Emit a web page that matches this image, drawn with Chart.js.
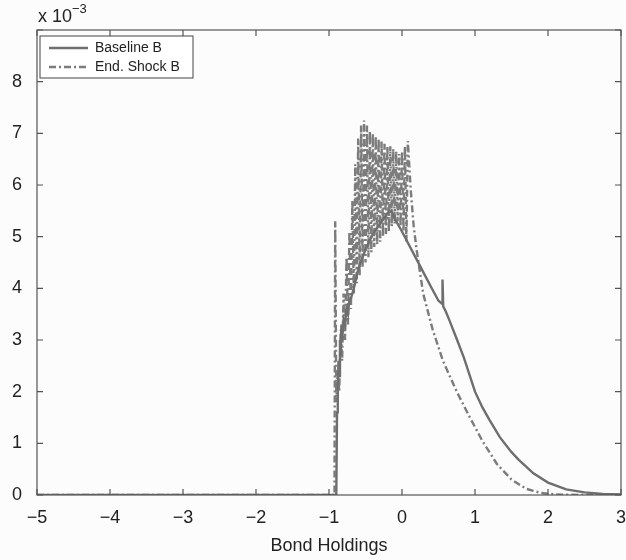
<!DOCTYPE html>
<html>
<head>
<meta charset="utf-8">
<script src="https://cdn.jsdelivr.net/npm/chart.js@4.4.0/dist/chart.umd.min.js"></script>
<style>
  html, body { margin: 0; padding: 0; background: #fcfcfc; }
  #wrap { width: 626px; height: 560px; }
</style>
</head>
<body>
<div id="wrap"><canvas id="grafico" width="626" height="560"></canvas></div>
<script>
// valores em unidades de 10^-3
var baseX = [-5, -0.9, -0.89, -0.88, -0.87, -0.86, -0.85, -0.84, -0.83, -0.82, -0.8, -0.78, -0.76, -0.74, -0.72,
  -0.7, -0.66, -0.62, -0.58, -0.54, -0.5, -0.45, -0.4, -0.35, -0.3, -0.25, -0.2, -0.15, -0.1, 0, 0.1, 0.2, 0.3,
  0.4, 0.5, 0.55, 0.555, 0.565, 0.6, 0.65, 0.75, 0.85, 1.0, 1.1, 1.2, 1.34, 1.5, 1.6, 1.8, 2.0, 2.25, 2.5, 2.75, 3];
var baseY = [0, 0, 1.6, 1.9, 2.6, 2.3, 3.0, 2.7, 3.3, 3.0, 3.4, 3.3, 3.6, 3.5, 3.8,
  3.8, 4.0, 4.25, 4.45, 4.6, 4.75, 4.9, 5.05, 5.15, 5.25, 5.35, 5.45, 5.5, 5.35, 5.1, 4.83, 4.56, 4.29,
  4.02, 3.76, 3.7, 4.17, 3.65, 3.55, 3.38, 3.02, 2.65, 2.0, 1.7, 1.45, 1.12, 0.83, 0.68, 0.42, 0.24, 0.11, 0.05, 0.02, 0.01];

var choqueX = [-5, -0.925, -0.915, -0.9, -0.88,
  -0.86, -0.84, -0.82, -0.8, -0.78, -0.76, -0.74, -0.72, -0.7, -0.68, -0.66, -0.64, -0.62, -0.6, -0.58, -0.56,
  -0.54, -0.52, -0.5, -0.48, -0.46, -0.44, -0.42, -0.4, -0.38, -0.36, -0.34, -0.32, -0.3, -0.28, -0.26, -0.24,
  -0.22, -0.2, -0.18, -0.16, -0.14, -0.12, -0.1, -0.08, -0.06, -0.04, -0.02, 0, 0.02, 0.04, 0.06, 0.08,
  0.12, 0.16, 0.2, 0.29, 0.42, 0.56, 0.75, 0.93, 1.1, 1.3, 1.5, 1.7, 1.9, 2.1, 2.5, 3];
var choqueY = [0, 0, 5.3, 1.8, 2.4,
  2.0, 3.2, 2.6, 3.9, 3.0, 4.6, 3.3, 5.1, 3.6, 5.7, 3.9, 6.4, 4.1, 6.9, 4.25, 7.15,
  4.4, 7.25, 4.5, 7.15, 4.6, 7.05, 4.7, 7.0, 4.8, 6.95, 4.85, 6.9, 4.9, 6.85, 5.0, 6.8,
  5.05, 6.75, 5.1, 6.75, 5.2, 6.7, 5.25, 6.65, 5.3, 6.6, 5.2, 6.65, 5.1, 6.75, 4.9, 6.85,
  5.9, 5.2, 4.75, 3.9, 3.2, 2.6, 2.0, 1.5, 1.05, 0.6, 0.3, 0.12, 0.04, 0.01, 0, 0];

var rotulos = ['Baseline B', 'End. Shock B'];
var ticksX = [-5, -4, -3, -2, -1, 0, 1, 2, 3];
var ticksY = [0, 1, 2, 3, 4, 5, 6, 7, 8, 9];

var fonte = '"Liberation Sans", Arial, Helvetica, sans-serif';

function pontos(xs, ys) {
  var r = [];
  for (var i = 0; i < xs.length; i++) r.push({ x: xs[i], y: ys[i] });
  return r;
}

// moldura com ticks para dentro, estilo matlab
var moldura = {
  id: 'moldura',
  afterDraw: function (chart) {
    var ctx = chart.ctx, a = chart.chartArea;
    var sx = chart.scales.x, sy = chart.scales.y;
    ctx.save();
    ctx.strokeStyle = '#555';
    ctx.lineWidth = 1.2;
    ctx.strokeRect(a.left, a.top, a.right - a.left, a.bottom - a.top);
    ctx.beginPath();
    ticksX.forEach(function (v) {
      var px = sx.getPixelForValue(v);
      ctx.moveTo(px, a.bottom); ctx.lineTo(px, a.bottom - 6);
      ctx.moveTo(px, a.top); ctx.lineTo(px, a.top + 6);
    });
    ticksY.forEach(function (v) {
      var py = sy.getPixelForValue(v);
      ctx.moveTo(a.left, py); ctx.lineTo(a.left + 6, py);
      ctx.moveTo(a.right, py); ctx.lineTo(a.right - 6, py);
    });
    ctx.stroke();

    // expoente
    ctx.fillStyle = '#222';
    ctx.textBaseline = 'alphabetic';
    ctx.font = '18px ' + fonte;
    ctx.fillText('x 10', a.left + 1, 22);
    var w = ctx.measureText('x 10').width;
    ctx.font = '13px ' + fonte;
    ctx.fillText('\u22123', a.left + 1 + w, 13);

    // legenda
    var lx = 40, ly = 36, lw = 153, lh = 42;
    ctx.fillStyle = '#fff';
    ctx.fillRect(lx, ly, lw, lh);
    ctx.strokeStyle = '#444';
    ctx.lineWidth = 1;
    ctx.strokeRect(lx, ly, lw, lh);
    chart.data.datasets.forEach(function (ds, i) {
      var y = ly + 12 + i * 19;
      ctx.strokeStyle = ds.borderColor;
      ctx.lineWidth = ds.borderWidth;
      ctx.setLineDash(ds.borderDash || []);
      ctx.beginPath();
      ctx.moveTo(lx + 9, y); ctx.lineTo(lx + 48, y);
      ctx.stroke();
      ctx.setLineDash([]);
      ctx.fillStyle = '#222';
      ctx.font = '14px ' + fonte;
      ctx.textBaseline = 'middle';
      ctx.fillText(ds.label, lx + 55, y);
    });
    ctx.restore();
  }
};

var ctx = document.getElementById('grafico').getContext('2d');
var chart = new Chart(ctx, {
  type: 'line',
  data: {
    datasets: [{
      label: rotulos[0],
      data: pontos(baseX, baseY),
      borderColor: '#6e6e6e',
      borderWidth: 2.4,
      pointRadius: 0,
      tension: 0
    }, {
      label: rotulos[1],
      data: pontos(choqueX, choqueY),
      borderColor: '#7c7c7c',
      borderWidth: 2.4,
      borderDash: [7, 3, 2, 3],
      pointRadius: 0,
      tension: 0
    }]
  },
  options: {
    responsive: false,
    animation: false,
    layout: { padding: { top: 30, right: 5, left: 0, bottom: 0 } },
    plugins: { legend: { display: false }, tooltip: { enabled: false } },
    scales: {
      x: {
        type: 'linear',
        min: -5, max: 3,
        grid: { display: false, drawTicks: false },
        border: { display: false },
        afterBuildTicks: function (s) { s.ticks = ticksX.map(function (v) { return { value: v }; }); },
        afterFit: function (s) { s.height = 65; s.paddingLeft = 0; s.paddingRight = 0; },
        ticks: {
          padding: 12,
          color: '#222',
          font: { family: fonte, size: 18 },
          callback: function (v) { return String(v).replace('-', '\u2212'); }
        },
        title: {
          display: true,
          text: 'Bond Holdings',
          color: '#222',
          font: { family: fonte, size: 18 },
          padding: { top: 0, bottom: 3 }
        }
      },
      y: {
        min: 0, max: 9,
        grid: { display: false, drawTicks: false },
        border: { display: false },
        afterBuildTicks: function (s) { s.ticks = ticksY.map(function (v) { return { value: v }; }); },
        afterFit: function (s) { s.width = 37; s.paddingTop = 0; s.paddingBottom = 0; },
        ticks: {
          padding: 15,
          color: '#222',
          font: { family: fonte, size: 18 },
          callback: function (v) { return v === 9 ? '' : String(v); }
        }
      }
    }
  },
  plugins: [moldura]
});
</script>
</body>
</html>
